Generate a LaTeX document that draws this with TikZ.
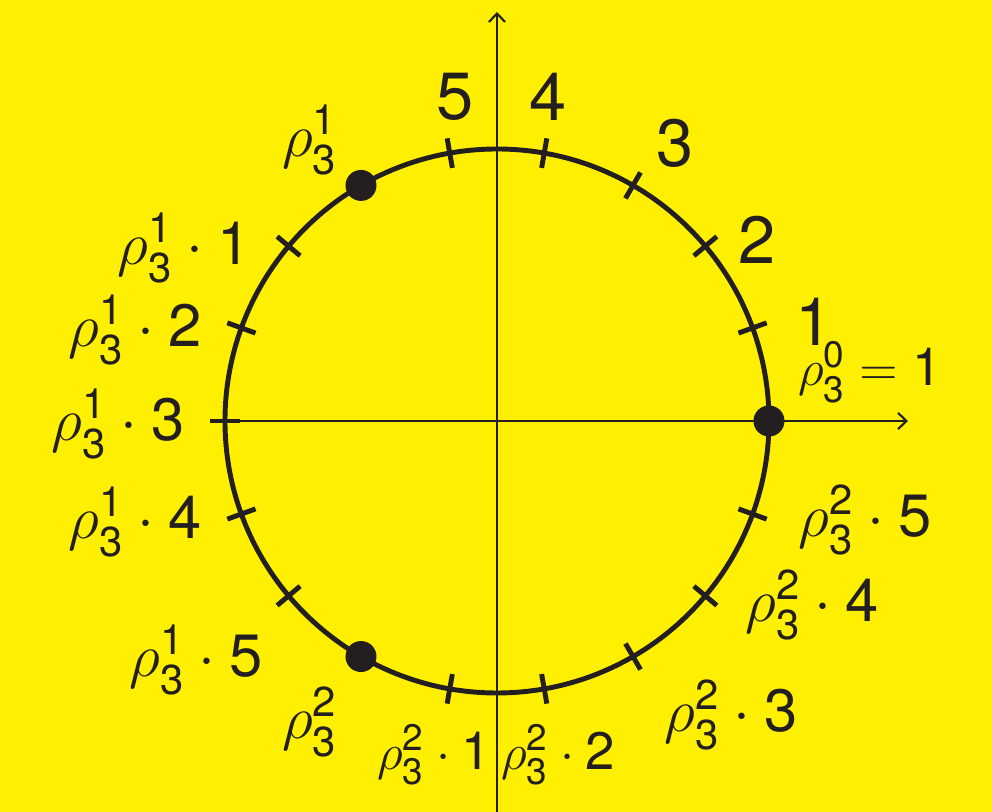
\documentclass[tikz,border=0pt]{standalone}
\usepackage{amsmath}
\usepackage{fontspec}
\setmainfont{TeX Gyre Heros}
\usetikzlibrary{arrows.meta}
\definecolor{ink}{RGB}{35,31,32}
\definecolor{canary}{RGB}{255,239,0}
\newcommand{\rh}[2]{\rho^{\text{#1}}_{\text{#2}}}

\begin{document}
\begin{tikzpicture}[every node/.style={text=ink, inner sep=0pt, font=\fontsize{17}{20}\selectfont},
    big/.style={font=\fontsize{19}{22}\selectfont},
    small/.style={font=\fontsize{15}{18}\selectfont},
    axis/.style={ink, line width=0.6pt, -{Straight Barb[length=2.4pt,width=4.6pt]}}]
    \def\r{2.72}
    \fill[canary] (-4.97,-3.91) rectangle (4.95,4.21);
    \useasboundingbox (-4.97,-3.91) rectangle (4.95,4.21);
    \coordinate (o) at (0,0);
    \coordinate (xl) at (-\r,0);
    \coordinate (xr) at (4.11,0);
    \coordinate (yb) at (0,-3.95);
    \coordinate (yt) at (0,4.09);
    \draw[axis] (xl) -- (xr);
    \draw[axis] (yb) -- (yt);
    \draw[ink, line width=1.4pt] (o) circle (\r);
    \foreach \a in {20,40,...,340}
        \draw[ink, line width=1.4pt] ({\a}:{\r-0.15}) -- ({\a}:{\r+0.15});
    \foreach \a in {0,120,240}
        \fill[ink] (\a:\r) circle (0.155);
    % first arc
    \node[big] (n1) at (3.17,0.99) {1};
    \node[big] (n2) at (2.60,1.81) {2};
    \node[big] (n3) at (1.78,2.78) {3};
    \node[big] (n4) at (0.51,3.24) {4};
    \node[big] (n5) at (-0.42,3.24) {5};
    \node[small] (r0) at (3.73,0.49) {$\rh{0}{3}=\text{1}$};
    % second arc
    \node (r1) at (-1.87,2.81) {$\rh{1}{3}$};
    \node (r11) at (-3.13,1.73) {$\rh{1}{3}\cdot\text{1}$};
    \node (r12) at (-3.62,0.91) {$\rh{1}{3}\cdot\text{2}$};
    \node (r13) at (-3.79,-0.03) {$\rh{1}{3}\cdot\text{3}$};
    \node (r14) at (-3.62,-1.01) {$\rh{1}{3}\cdot\text{4}$};
    \node (r15) at (-3.01,-2.39) {$\rh{1}{3}\cdot\text{5}$};
    % third arc
    \node (r2) at (-1.87,-3.01) {$\rh{2}{3}$};
    \node[small] (r21) at (-0.63,-3.34) {$\rh{2}{3}\cdot\text{1}$};
    \node[small] (r22) at (0.61,-3.34) {$\rh{2}{3}\cdot\text{2}$};
    \node (r23) at (2.34,-2.94) {$\rh{2}{3}\cdot\text{3}$};
    \node (r24) at (3.15,-1.84) {$\rh{2}{3}\cdot\text{4}$};
    \node (r25) at (3.68,-0.99) {$\rh{2}{3}\cdot\text{5}$};
\end{tikzpicture}
\end{document}
